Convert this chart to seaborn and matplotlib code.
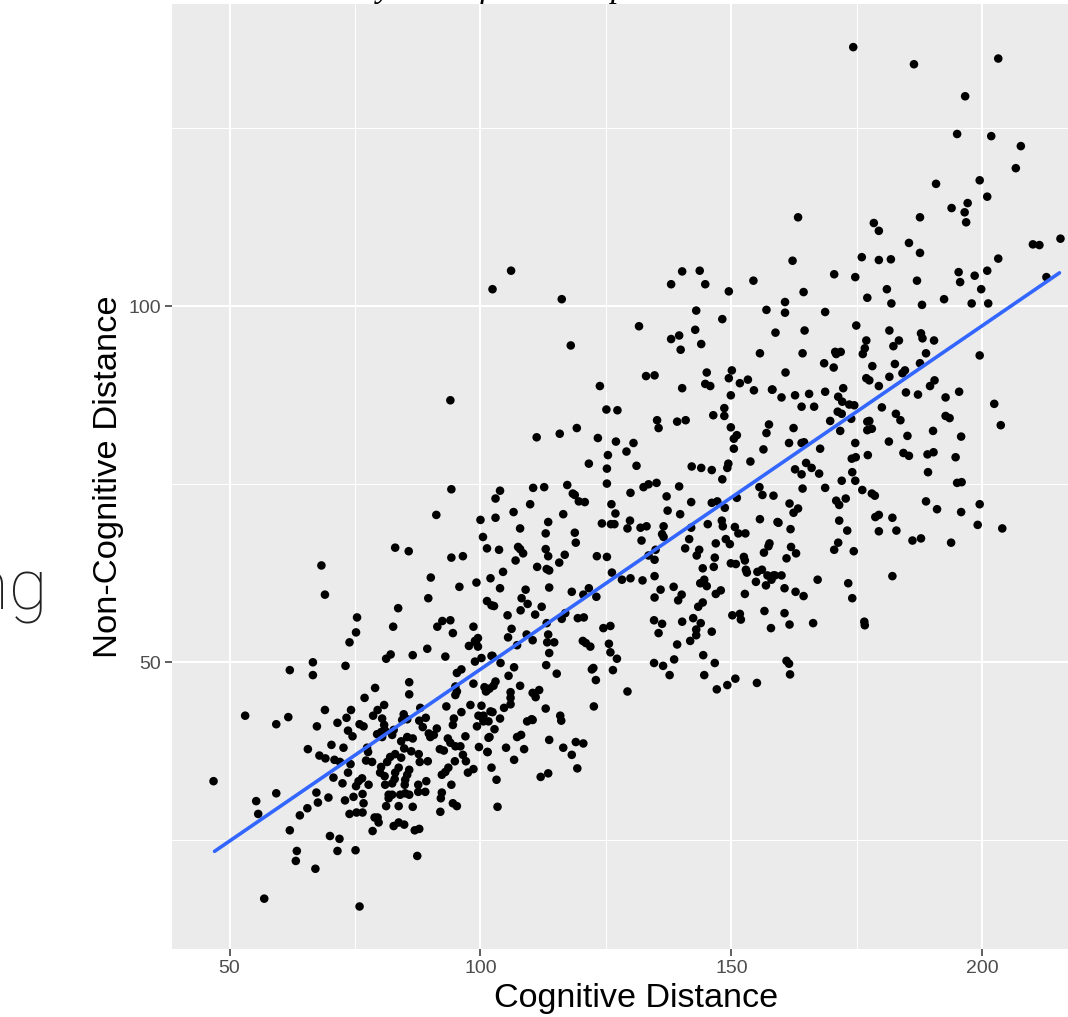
import matplotlib
matplotlib.use('Agg')
import matplotlib.pyplot as plt
import numpy as np
import pandas as pd
import seaborn as sns

low_x = [
    46.8, 55.3, 55.7, 59.3, 53.1, 59.3, 61.7, 62.0, 66.6, 66.6,
    73.1, 73.9, 81.2, 82.1, 86.5, 89.4, 93.0, 97.7, 99.1, 99.5,
    98.9, 100.2, 102.2, 96.2, 95.3, 79.0, 85.8, 85.8, 76.9, 80.8,
    69.0, 74.2, 79.5, 78.6, 73.3, 71.5, 67.4, 75.9, 76.7, 73.6,
    74.5, 65.6, 70.3, 72.7, 67.9, 69.1, 70.9, 72.0, 74.1, 73.6,
    70.7, 72.5, 67.3, 67.6, 69.7, 65.5, 64.0, 62.0, 73.0, 74.7,
    76.5, 76.7, 73.9, 75.3, 76.5, 70.0, 71.9, 71.5, 75.1, 63.4,
    63.2, 67.1, 56.9, 75.9, 87.4, 78.5, 78.9, 79.7, 79.5, 82.7,
    83.7, 84.8, 86.9, 87.8, 81.2, 83.7, 86.5, 92.0, 94.5, 95.3,
    92.1, 92.3, 94.2, 89.0, 87.6, 87.6, 89.2, 81.7, 82.4, 81.7,
    84.0, 85.0, 85.8, 84.9, 85.0, 85.4, 85.8, 81.0, 82.4, 82.9,
    77.7, 75.2, 75.7, 76.4, 80.2, 80.0, 80.9, 81.4, 82.0, 83.0,
    84.2, 83.7, 83.0, 77.2, 78.4, 77.6, 77.4, 79.4, 80.2, 81.0,
    80.4, 82.4, 82.7, 80.4, 80.8, 84.7, 84.4, 85.4, 88.0, 89.1,
    87.8, 88.5, 91.3, 89.7, 90.7, 90.0, 84.2, 85.4, 86.5, 84.8,
    86.2, 87.7, 87.9, 89.5, 91.9, 92.7, 93.5, 94.0, 95.0, 96.0,
    94.9, 96.5, 97.1, 93.6, 93.0, 92.3, 98.6, 97.5, 97.0, 99.7,
    101.4, 101.6, 102.2, 93.2, 96.2, 98.0, 100.2, 102.0, 94.7, 94.5,
    99.6, 100.6, 101.6, 99.3, 95.0, 95.3, 95.0, 98.6, 101.3, 100.8,
]
low_y = [
    33.3, 30.5, 28.7, 31.6, 42.5, 41.3, 42.3, 48.9, 50.0, 48.2,
    49.5, 52.8, 50.5, 51.1, 51.0, 51.9, 50.8, 52.3, 52.8, 52.2,
    50.1, 50.6, 50.9, 49.0, 48.5, 46.4, 47.2, 45.5, 45.0, 44.0,
    43.3, 43.3, 43.3, 42.5, 42.2, 41.5, 41.0, 41.3, 41.0, 40.4,
    39.6, 37.8, 38.4, 38.0, 36.9, 36.5, 36.3, 36.0, 35.7, 34.5,
    33.8, 33.0, 31.7, 30.3, 31.0, 29.5, 28.5, 26.4, 30.6, 31.1,
    31.5, 30.2, 28.7, 28.9, 28.9, 25.6, 25.2, 23.5, 23.6, 23.5,
    22.1, 21.0, 16.8, 15.7, 22.8, 26.3, 28.2, 27.5, 28.2, 27.0,
    27.5, 27.2, 26.4, 26.6, 29.8, 29.8, 29.7, 29.0, 30.2, 29.8,
    30.9, 31.7, 32.8, 31.8, 31.8, 32.8, 33.3, 31.4, 31.4, 30.9,
    31.4, 31.6, 31.4, 32.8, 33.5, 34.2, 34.9, 32.8, 33.0, 33.6,
    32.8, 32.6, 33.3, 33.7, 35.3, 34.5, 34.0, 36.0, 36.7, 37.1,
    36.6, 35.2, 34.5, 36.2, 36.0, 37.4, 38.0, 39.9, 40.2, 40.4,
    39.5, 39.8, 40.5, 42.1, 41.2, 42.7, 41.9, 42.0, 43.6, 42.2,
    41.8, 40.9, 40.7, 40.0, 39.8, 39.5, 38.9, 39.5, 39.3, 37.9,
    37.5, 37.1, 36.0, 36.1, 37.8, 37.6, 39.3, 38.7, 38.2, 38.2,
    36.1, 37.0, 36.1, 35.2, 34.6, 34.2, 35.0, 34.5, 39.6, 38.1,
    37.4, 39.4, 35.2, 43.8, 43.0, 44.0, 43.9, 43.1, 42.1, 41.2,
    42.5, 41.9, 41.7, 41.0, 46.6, 45.9, 45.4, 47.0, 46.1, 46.5,
]

upper_left_x = [
    94.0, 94.2, 91.2, 100.0, 100.5, 101.3, 68.3, 69.0, 83.0, 85.7,
    94.2, 96.5, 90.1, 99.2, 102.0, 95.8, 89.6, 101.3, 102.2, 83.6,
    75.4, 75.2, 82.6, 92.4, 91.4, 94.0, 94.5, 98.6, 99.5, 98.9,
]
upper_left_y = [
    86.8, 74.3, 70.7, 70.0, 67.6, 66.0, 63.6, 59.5, 66.1, 65.6,
    64.7, 64.9, 61.9, 61.2, 61.8, 60.6, 59.0, 58.6, 58.0, 57.6,
    56.3, 54.2, 55.0, 55.8, 55.0, 55.9, 54.1, 55.0, 53.4, 53.0,
]

mid_x = [
    125.1, 127.3, 135.2, 135.5, 139.2, 140.9, 146.4, 148.6, 148.6, 149.9,
    157.5, 157.0, 151.1, 150.5, 150.5, 156.4, 119.2, 115.8, 111.2, 123.4,
    127.0, 130.5, 129.1, 125.4, 121.6, 125.2, 131.1, 142.1, 144.0, 146.1,
    149.4, 149.2, 153.8, 148.2, 125.2, 117.3, 112.7, 110.5, 103.9, 103.0,
    109.9, 118.4, 118.8, 119.6, 120.8, 129.9, 132.5, 133.5, 135.1, 139.6,
    137.1, 142.0, 146.1, 147.2, 151.1, 155.6, 156.2, 158.4, 126.1, 126.9,
    137.3, 139.8, 148.7, 106.6, 103.0, 116.5, 113.5, 107.9, 113.0, 118.8,
    119.0, 124.2, 126.0, 126.7, 129.8, 129.3, 131.9, 133.1, 136.5, 136.2,
    136.5, 132.1, 142.0, 145.3, 148.1, 148.3, 150.7, 151.4, 152.8, 155.7,
    159.2, 141.6, 140.8, 146.9, 148.9, 149.7, 157.6, 157.4, 156.5, 103.7,
    107.5, 107.9, 108.5, 113.0, 113.5, 116.8, 115.7, 107.0, 111.3, 113.2,
    113.7, 123.2, 125.2, 134.9, 133.5, 134.7, 143.1, 143.6, 146.7, 146.5,
    144.3, 149.9, 150.9, 152.5, 152.7, 152.9, 153.1, 104.5, 103.9, 126.2,
    128.2, 129.9, 132.3, 134.7, 113.7, 109.0, 108.2, 109.4, 102.7, 112.2,
    108.0, 105.4, 110.9, 118.2, 120.5, 121.6, 123.1, 135.9, 134.7, 138.5,
    140.1, 139.4, 144.3, 143.4, 144.6, 143.8, 145.1, 146.9, 147.9, 152.7,
    154.9, 155.2, 156.1, 157.2, 158.0, 156.9, 158.7, 150.2, 151.7, 151.9,
    156.6, 157.9, 116.9, 116.2, 119.4, 120.6, 113.2, 106.2, 105.5, 109.2,
    110.4, 107.3, 113.5, 113.3, 114.7, 113.7, 124.5, 125.9, 120.4, 121.0,
    121.9, 125.6, 125.9, 127.2, 134.6, 136.2, 135.5, 140.2, 142.4, 143.9,
    143.0, 143.0, 141.8, 146.1, 139.2, 144.4, 138.6, 146.7, 134.6, 136.4,
    137.7, 144.6, 150.8, 149.2, 147.1, 155.1, 129.3, 126.4, 123.0, 122.5,
    122.2, 122.6, 115.2, 113.1, 106.7, 104.0, 102.4, 105.6, 107.9, 103.0,
    102.6, 101.8, 101.1, 106.0, 106.0, 106.0, 104.7, 102.4, 110.4, 111.7,
    111.0, 113.0, 115.9, 110.2, 103.9, 100.6, 116.1, 109.3, 110.4, 100.2,
    100.6, 102.8, 101.8, 107.3, 108.1, 113.7, 119.0, 120.5, 116.5, 118.2,
    119.3, 113.5, 112.0, 105.1, 108.7, 106.7, 101.4, 103.2, 103.4,
]
mid_y = [
    85.5, 85.4, 84.0, 82.9, 83.8, 84.0, 84.7, 85.7, 84.6, 83.0,
    83.4, 82.2, 81.9, 81.4, 80.0, 79.9, 82.9, 82.1, 81.6, 81.5,
    81.0, 80.8, 79.6, 79.1, 77.9, 77.2, 77.6, 77.5, 77.3, 77.0,
    77.9, 77.3, 78.2, 75.7, 75.1, 74.9, 74.6, 74.5, 74.1, 73.0,
    72.2, 73.7, 73.5, 72.6, 72.5, 73.8, 74.6, 75.0, 75.2, 74.7,
    73.3, 72.5, 72.4, 72.6, 73.1, 74.6, 73.5, 73.4, 72.2, 70.9,
    71.3, 70.8, 71.7, 71.1, 70.3, 70.8, 69.7, 68.8, 68.1, 68.2,
    66.8, 69.5, 69.4, 69.4, 69.9, 68.8, 68.9, 69.1, 69.1, 68.0,
    67.6, 67.1, 68.9, 69.4, 69.9, 69.1, 69.0, 68.1, 68.1, 70.1,
    69.7, 67.3, 66.0, 66.7, 67.3, 66.6, 66.7, 66.3, 65.4, 65.8,
    66.2, 65.9, 65.3, 65.9, 64.9, 65.1, 64.0, 64.3, 63.4, 63.1,
    62.9, 64.9, 64.8, 65.8, 65.0, 64.4, 65.0, 65.8, 64.7, 63.4,
    63.2, 63.9, 63.8, 64.8, 64.3, 63.0, 62.6, 62.7, 60.4, 62.6,
    61.6, 61.8, 61.5, 62.1, 60.5, 60.2, 59.0, 58.2, 57.9, 57.8,
    57.3, 56.6, 56.7, 59.9, 59.5, 60.4, 59.2, 60.2, 59.1, 60.6,
    59.5, 58.7, 58.4, 57.8, 61.6, 61.1, 60.7, 59.6, 60.1, 59.6,
    61.3, 62.7, 63.0, 62.2, 61.6, 60.8, 62.2, 56.6, 56.8, 56.0,
    57.2, 54.8, 56.9, 56.1, 56.2, 56.3, 55.5, 54.7, 53.5, 53.9,
    53.1, 52.4, 53.9, 52.8, 52.8, 51.3, 54.8, 55.1, 53.0, 52.7,
    52.2, 52.6, 51.4, 50.5, 55.9, 55.4, 54.1, 55.7, 56.2, 55.5,
    54.6, 53.8, 53.0, 54.3, 52.5, 51.0, 50.4, 49.9, 49.9, 49.5,
    48.2, 48.2, 47.7, 46.8, 46.2, 47.1, 45.9, 48.9, 47.5, 49.2,
    49.0, 43.8, 48.4, 49.6, 49.3, 49.9, 50.9, 48.1, 46.7, 47.3,
    46.7, 46.3, 45.9, 45.8, 45.0, 44.1, 43.6, 43.0, 45.7, 46.1,
    45.1, 43.5, 42.5, 42.0, 42.1, 42.5, 41.8, 41.7, 41.9, 42.4,
    41.7, 40.6, 39.5, 39.5, 39.8, 39.1, 38.8, 38.6, 38.0, 37.0,
    35.1, 34.4, 33.9, 38.0, 37.8, 36.3, 37.4, 33.5, 29.7,
]

high_x = [
    160.7, 160.7, 168.7, 181.9, 188.0, 197.9, 201.2, 192.4, 177.1, 174.9,
    158.8, 164.6, 181.5, 187.8, 188.1, 190.4, 176.9, 183.4, 182.3, 176.6,
    176.2, 164.2, 170.7, 171.8, 170.9, 188.8, 199.5, 168.5, 170.4, 178.1,
    182.6, 187.6, 160.8, 184.6, 184.1, 181.5, 176.9, 177.5, 179.4, 172.3,
    190.5, 189.6, 158.2, 160.0, 162.7, 165.5, 168.7, 184.8, 187.2, 195.4,
    192.7, 171.3, 172.1, 173.5, 174.5, 164.0, 166.5, 180.0, 202.4, 171.2,
    172.0, 182.8, 183.7, 192.7, 193.5, 173.9, 169.7, 177.5, 177.1, 203.7,
    162.4, 178.0, 177.1, 171.7, 190.2, 185.1, 195.8, 161.5, 164.0, 164.5,
    174.7, 181.4, 167.7, 184.3, 185.4, 189.1, 190.3, 194.7, 177.2, 174.8,
    174.0, 164.9, 162.7, 166.0, 164.0, 167.5, 174.1, 189.2, 172.0, 174.7,
    195.0, 195.9, 164.2, 168.7, 176.1, 178.0, 178.6, 170.9, 171.5, 172.8,
    161.6, 163.3, 162.4, 188.8, 191.0, 195.8, 199.5, 199.1, 204.0, 171.5,
    178.7, 179.4, 182.1, 179.4, 182.9, 173.1, 159.4, 161.8, 186.1, 187.8,
    193.8, 171.3, 170.5, 174.4, 161.9, 162.9, 161.0, 160.0, 158.4, 167.2,
    182.1, 173.3, 160.6, 162.8, 164.4, 174.1, 160.6, 161.6, 166.3, 176.5,
    176.6, 161.0, 161.5, 161.7,
]
high_y = [
    100.6, 99.1, 99.2, 100.4, 100.2, 100.4, 100.4, 101.0, 101.2, 97.3,
    96.3, 96.6, 96.6, 96.2, 95.5, 95.2, 95.2, 95.2, 94.4, 94.1,
    93.3, 93.4, 93.6, 93.6, 93.3, 93.4, 93.1, 92.0, 91.4, 91.6,
    91.9, 92.0, 90.7, 91.0, 90.6, 90.1, 89.9, 89.6, 88.8, 88.5,
    89.6, 88.8, 88.3, 87.2, 87.5, 87.7, 88.0, 87.9, 87.6, 88.0,
    87.2, 87.3, 86.6, 86.2, 86.1, 85.9, 85.9, 85.8, 86.3, 85.2,
    84.9, 84.9, 84.0, 84.6, 84.3, 84.2, 83.9, 83.9, 83.8, 83.3,
    82.9, 82.8, 82.6, 82.5, 82.5, 81.8, 81.7, 80.8, 80.8, 80.9,
    80.8, 81.0, 80.0, 79.4, 79.0, 79.2, 79.5, 78.8, 79.1, 78.8,
    78.6, 78.0, 77.1, 77.3, 76.4, 76.5, 76.7, 76.7, 75.5, 75.5,
    75.2, 75.3, 74.4, 74.5, 74.2, 73.7, 73.4, 72.7, 72.1, 73.0,
    72.3, 71.6, 71.0, 72.6, 71.5, 71.1, 72.2, 69.3, 68.8, 69.9,
    70.4, 70.7, 70.3, 68.4, 68.5, 68.5, 69.6, 68.7, 67.1, 67.4,
    66.8, 66.8, 65.8, 65.6, 66.2, 65.3, 64.6, 62.2, 62.2, 61.6,
    62.1, 61.1, 60.4, 59.9, 59.3, 59.0, 56.9, 55.3, 55.5, 55.7,
    55.2, 50.2, 49.8, 48.3,
]

top_x = [
    106.1, 102.4, 116.2, 140.2, 143.7, 138.0, 144.8, 149.5, 154.4, 143.0,
    157.0, 148.2, 142.8, 131.6, 139.6, 138.0, 144.0, 139.9, 118.0, 155.7,
    150.1, 145.1, 149.5, 153.3, 151.7, 133.0, 134.7, 144.8, 145.8, 140.2,
    123.8, 154.5, 158.1, 149.9, 174.3, 186.4, 203.2, 196.6, 195.0, 201.8,
    207.7, 206.7, 190.8, 199.5, 201.0, 197.1, 193.9, 196.5, 196.8, 163.3,
    178.4, 179.4, 187.6, 185.4, 187.6, 176.0, 179.4, 181.8, 162.2, 210.1,
    211.4, 215.6, 203.2, 201.0, 195.3, 198.5, 195.6, 187.0, 170.5, 174.7,
    199.8, 181.0, 164.4, 212.8,
]
top_y = [
    105.0, 102.4, 101.0, 104.9, 105.0, 103.1, 103.1, 102.1, 103.6, 99.4,
    99.5, 98.2, 96.7, 97.2, 95.9, 95.4, 94.7, 93.9, 94.5, 93.4,
    91.0, 90.7, 89.9, 89.7, 89.2, 90.2, 90.3, 89.1, 88.8, 88.5,
    88.8, 88.2, 88.3, 87.5, 136.4, 134.0, 134.8, 129.5, 124.2, 123.9,
    122.5, 119.4, 117.2, 117.7, 115.4, 114.5, 113.8, 113.2, 111.8, 112.5,
    111.7, 110.6, 112.5, 108.9, 107.5, 106.9, 106.5, 106.6, 106.4, 108.7,
    108.6, 109.5, 106.7, 105.0, 104.8, 104.3, 103.4, 103.6, 104.5, 104.1,
    102.4, 102.4, 102.0, 104.1,
]

line_x = [47.0, 215.4]
line_y = [23.45, 104.7]

df = pd.DataFrame({
    'cognitive': low_x + upper_left_x + mid_x + high_x + top_x,
    'non_cognitive': low_y + upper_left_y + mid_y + high_y + top_y,
})

sns.set_theme(style='darkgrid', rc={'axes.facecolor': '#EBEBEB', 'grid.color': 'white'})
plt.rcParams['font.family'] = ['Liberation Sans', 'DejaVu Sans']

fig = plt.figure(figsize=(10.68, 10.17), dpi=100)
ax = fig.add_axes([172 / 1068, 68 / 1017, 896 / 1068, 945 / 1017])

sns.scatterplot(data=df, x='cognitive', y='non_cognitive', color='black', s=38,
                edgecolor='none', ax=ax, zorder=3, clip_on=True)
sns.lineplot(x=line_x, y=line_y, color='#3366FF', linewidth=2.6, ax=ax, zorder=4)

ax.set_xlim(38.52, 217.1)
ax.set_ylim(9.73, 142.46)
ax.set_xticks([50, 100, 150, 200])
ax.set_yticks([50, 100])
ax.set_xticks([75, 125, 175], minor=True)
ax.set_yticks([25, 75, 125], minor=True)
ax.grid(which='major', color='white', linewidth=1.5)
ax.grid(which='minor', color='white', linewidth=0.75)
ax.set_axisbelow(True)
ax.tick_params(which='major', length=5, width=1.1, color='#333333', labelcolor='#4D4D4D',
               labelsize=14, bottom=True, left=True, pad=3)
ax.tick_params(which='minor', length=0)
for spine in ax.spines.values():
    spine.set_visible(False)
ax.set_xlabel('Cognitive Distance', fontsize=24.6, color='black')
ax.set_ylabel('Non-Cognitive Distance', fontsize=24.8, color='black')
ax.xaxis.set_label_coords(464 / 896, -49 / 945, transform=ax.transAxes)
ax.xaxis.label.set_va('center')
ax.yaxis.set_label_coords(-63 / 896, 0.5, transform=ax.transAxes)
ax.yaxis.label.set_va('center')

# bits of the slide text around the chart
fig.text(48 / 1068, 1 - 609 / 1017, 'ng', family='Roboto', fontweight='light', fontsize=51,
         color='#222222', ha='right', va='baseline')
for px, letter in zip([384, 484, 619], ['y', 'f', 'p']):
    fig.text(px / 1068, 1 + 3 / 1017, letter, family='Liberation Serif', style='italic',
             fontsize=24, color='black', ha='center', va='baseline')

fig.savefig('out.png', dpi=100)
